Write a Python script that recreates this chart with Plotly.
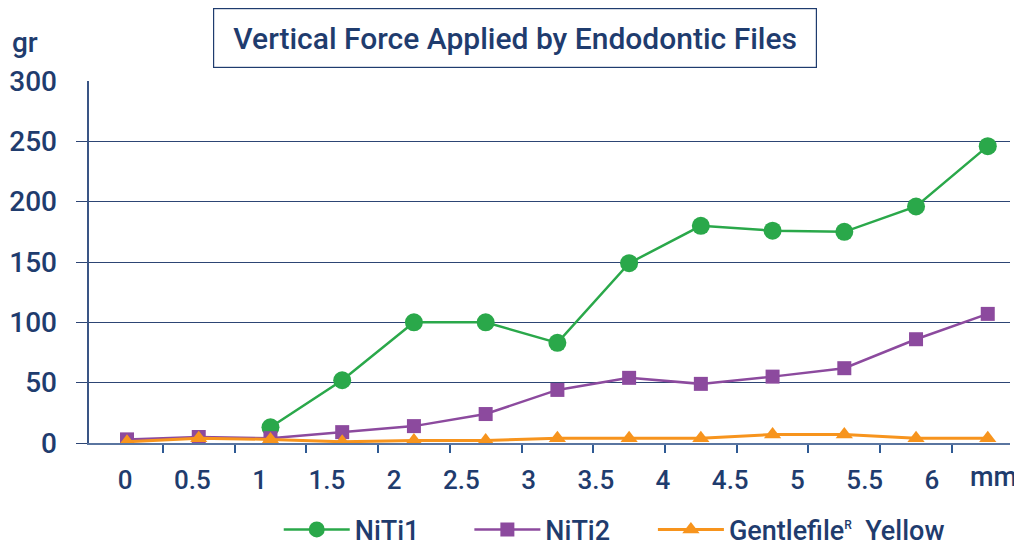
import plotly.graph_objects as go

# --- data ---
positions = list(range(13))  # 13 equally spaced measurement points
niti1 = [None, None, 13, 52, 100, 100, 83, 149, 180, 176, 175, 196, 246]
niti2 = [3, 5, 4, 9, 14, 24, 44, 54, 49, 55, 62, 86, 107]
gentle = [1, 4, 3, 1, 2, 2, 4, 4, 4, 7, 7, 4, 4]

x_tick_marks = [i + 0.5 for i in range(12)]
mm_ticks = [0, 0.5, 1, 1.5, 2, 2.5, 3, 3.5, 4, 4.5, 5, 5.5, 6]
mm_labels = ["0", "0.5", "1", "1.5", "2", "2.5", "3", "3.5", "4", "4.5", "5", "5.5", "6"]
y_labels = [0, 50, 100, 150, 200, 250, 300]
y_grid = [0, 50, 100, 150, 200, 250]

NAVY = "#1f3c6e"
GRID = "#2d4574"
FONT = "Roboto, Liberation Sans, Arial, sans-serif"
W = 500

fig = go.Figure()
fig.add_trace(go.Scatter(x=positions, y=niti1, name="NiTi1", mode="lines+markers",
                         line=dict(color="#2aa84a", width=2.5),
                         marker=dict(symbol="circle", size=18, color="#2aa84a"),
                         legend="legend"))
fig.add_trace(go.Scatter(x=positions, y=niti2, name="NiTi2", mode="lines+markers",
                         line=dict(color="#8c4a9e", width=2.5),
                         marker=dict(symbol="square", size=14, color="#8c4a9e"),
                         legend="legend2"))
fig.add_trace(go.Scatter(x=positions, y=gentle,
                         name="Gentlefile<sup><span style='font-size:12px'>R</span></sup>  Yellow",
                         mode="lines+markers",
                         line=dict(color="#f7941d", width=3),
                         marker=dict(symbol="triangle-up", size=15, color="#f7941d"),
                         legend="legend3"))
# invisible helper trace so the label axes (mm scale / y labels) get drawn
fig.add_trace(go.Scatter(x=[0], y=[0], xaxis="x2", yaxis="y2", mode="markers",
                         marker=dict(opacity=0), showlegend=False, hoverinfo="skip"))


def legend_at(xpos):
    return dict(orientation="h", xref="container", yref="container",
                x=xpos, y=0.03, xanchor="left", yanchor="middle",
                itemwidth=66, font=dict(size=27, color=NAVY, weight=W),
                itemclick=False, bgcolor="rgba(0,0,0,0)")


# page body adds an 8px offset, so the figure is 8px smaller than the window
fig.update_layout(
    width=1014, height=538,
    margin=dict(l=81, r=12, t=73, b=103, autoexpand=False),
    paper_bgcolor="white", plot_bgcolor="white",
    font=dict(family=FONT, color=NAVY, size=26, weight=W),
    showlegend=True,
    legend=legend_at(0.267),
    legend2=legend_at(0.455),
    legend3=legend_at(0.636),
    xaxis=dict(range=[-0.53, 12.31], showgrid=False, zeroline=False, automargin=False,
               tickvals=x_tick_marks, ticks="outside", ticklen=8, tickwidth=1.5,
               tickcolor="#2f5a94", showticklabels=False,
               showline=True, linecolor="#5a75a0", linewidth=1.5),
    xaxis2=dict(overlaying="x", anchor="y2", side="bottom", automargin=False,
                range=[-0.268, 6.58], showgrid=False, zeroline=False,
                tickvals=mm_ticks, ticktext=mm_labels, ticks="",
                ticklabelstandoff=19, tickfont=dict(size=26, color=NAVY, weight=W),
                showline=False),
    yaxis=dict(range=[0, 300], tickvals=y_grid, showgrid=True, gridcolor=GRID,
               gridwidth=1.2, zeroline=False, ticks="outside", ticklen=11, automargin=False,
               tickcolor=GRID, tickwidth=1.2, showticklabels=False,
               showline=True, linecolor="#3a5585", linewidth=1.5),
    yaxis2=dict(overlaying="y", range=[0, 300], tickvals=y_labels, automargin=False,
                showgrid=False, zeroline=False, ticks="", side="left",
                ticklabelstandoff=31, tickfont=dict(size=28, color=NAVY, weight=W),
                showline=False),
    annotations=[
        dict(text="Vertical Force Applied by Endodontic Files", xref="paper", yref="paper",
             x=(515 - 89) / 921, y=(443 - 38) / 362, xanchor="center", yanchor="middle",
             showarrow=False, font=dict(size=30, color=NAVY, weight=W),
             bordercolor=NAVY, borderwidth=1.2, borderpad=12, bgcolor="white",
             width=578, height=34),
        dict(text="gr", xref="paper", yref="paper", x=(10 - 89) / 921, y=(443 - 42) / 362,
             xanchor="left", yanchor="middle", showarrow=False,
             font=dict(size=28, color=NAVY, weight=W)),
        dict(text="mm", xref="paper", yref="paper", x=(993 - 89) / 921, y=(443 - 477) / 362,
             xanchor="center", yanchor="middle", showarrow=False,
             font=dict(size=27, color=NAVY, weight=W)),
    ],
)

fig.write_html("out.html")
